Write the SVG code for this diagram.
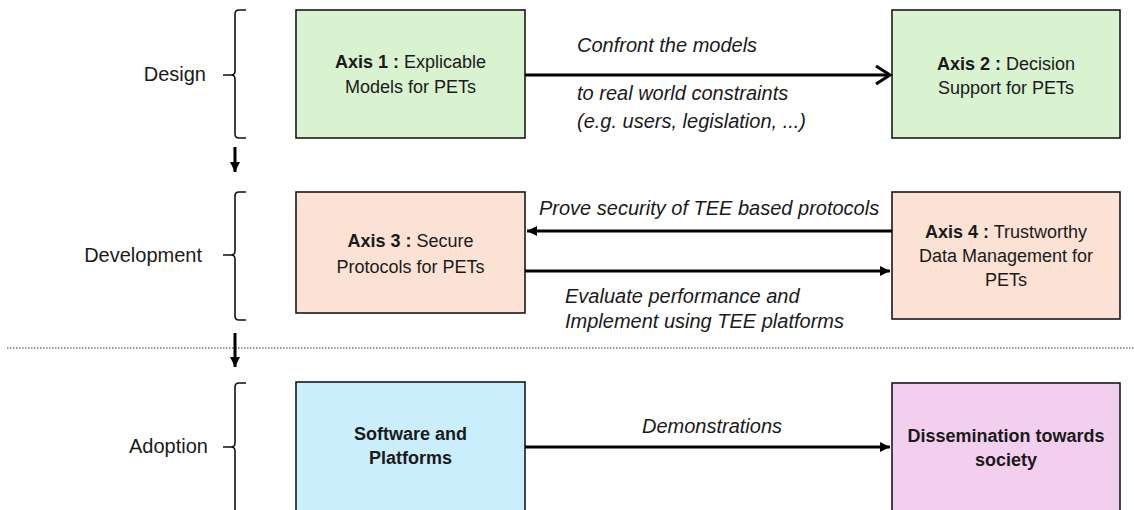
<svg xmlns="http://www.w3.org/2000/svg" width="1134" height="510" viewBox="0 0 1134 510">
<style>
.lbl{font-family:"Liberation Sans",Arial,sans-serif;font-size:20px;fill:#1a1a1a}
.it{font-family:"Liberation Sans",Arial,sans-serif;font-size:20px;font-style:italic;fill:#1a1a1a}
.bx{font-family:"Liberation Sans",Arial,sans-serif;font-size:18px;fill:#1a1a1a;text-anchor:middle}
.b{font-weight:bold}
.brace{fill:none;stroke:#111;stroke-width:1.6}
.box{stroke:#1a1a1a;stroke-width:1.6}
.conn{fill:none;stroke:#000;stroke-width:3}
</style>
<defs>
<marker id="open" markerUnits="userSpaceOnUse" markerWidth="20" markerHeight="22" refX="16" refY="11" orient="auto">
<path d="M2,2 L16,11 L2,20" fill="none" stroke="#000" stroke-width="3"/>
</marker>
<marker id="tri" markerUnits="userSpaceOnUse" markerWidth="12" markerHeight="12" refX="10" refY="6" orient="auto">
<path d="M0,1 L10,6 L0,11 Z" fill="#000"/>
</marker>
</defs>
<rect width="1134" height="510" fill="#fff"/>

<g id="phase-design">
<text class="lbl" x="206" y="81" text-anchor="end">Design</text>
<path class="brace" d="M246,10 L239,10 Q235,10 235,14 L235,71 Q235,75 231,75 L223,75 L231,75 Q235,75 235,79 L235,134 Q235,138 239,138 L246,138"/>
</g>
<g id="phase-development">
<text class="lbl" x="202" y="262" text-anchor="end">Development</text>
<path class="brace" d="M246,192 L239,192 Q235,192 235,196 L235,251 Q235,255 231,255 L223,255 L231,255 Q235,255 235,259 L235,316 Q235,320 239,320 L246,320"/>
</g>
<g id="phase-adoption">
<text class="lbl" x="208" y="453" text-anchor="end">Adoption</text>
<path class="brace" d="M246,383 L239,383 Q235,383 235,387 L235,443 Q235,447 231,447 L223,447 L231,447 Q235,447 235,451 L235,515"/>
</g>

<line x1="7" y1="348" x2="1134" y2="348" stroke="#333" stroke-width="1.2" stroke-dasharray="1.5 1.5"/>

<g id="axis1">
<rect class="box" x="296" y="10" width="229" height="128" fill="#d9f2d0"/>
<text class="bx" x="410.5" y="68"><tspan class="b">Axis 1 :</tspan> Explicable</text>
<text class="bx" x="410.5" y="93">Models for PETs</text>
</g>
<g id="axis2">
<rect class="box" x="892" y="10" width="228" height="128" fill="#d9f2d0"/>
<text class="bx" x="1006" y="70"><tspan class="b">Axis 2 :</tspan> Decision</text>
<text class="bx" x="1006" y="94">Support for PETs</text>
</g>
<g id="axis3">
<rect class="box" x="296" y="192" width="229" height="121" fill="#fbe2d5"/>
<text class="bx" x="410.5" y="247"><tspan class="b">Axis 3 :</tspan> Secure</text>
<text class="bx" x="410.5" y="273">Protocols for PETs</text>
</g>
<g id="axis4">
<rect class="box" x="892" y="192" width="228" height="127" fill="#fbe2d5"/>
<text class="bx" x="1006" y="238"><tspan class="b">Axis 4 :</tspan> Trustworthy</text>
<text class="bx" x="1006" y="262">Data Management for</text>
<text class="bx" x="1006" y="286">PETs</text>
</g>
<g id="software">
<rect class="box" x="296" y="382" width="229" height="140" fill="#caeefb"/>
<text class="bx b" x="410.5" y="440">Software and</text>
<text class="bx b" x="410.5" y="464">Platforms</text>
</g>
<g id="dissemination">
<rect class="box" x="892" y="383" width="228" height="140" fill="#f2cfee"/>
<text class="bx b" x="1006" y="442">Dissemination towards</text>
<text class="bx b" x="1006" y="466">society</text>
</g>

<g id="connectors">
<line class="conn" x1="525" y1="75" x2="890" y2="75" marker-end="url(#open)"/>
<line class="conn" x1="892" y1="231" x2="527" y2="231" stroke-width="2.5" marker-end="url(#tri)"/>
<line class="conn" x1="525" y1="271" x2="890" y2="271" stroke-width="2.5" marker-end="url(#tri)"/>
<line class="conn" x1="525" y1="447" x2="890" y2="447" stroke-width="2.5" marker-end="url(#tri)"/>
<line class="conn" x1="235" y1="147" x2="235" y2="172" marker-end="url(#tri)"/>
<line class="conn" x1="235" y1="333" x2="235" y2="367" marker-end="url(#tri)"/>
</g>

<g id="labels">
<text class="it" x="577" y="52">Confront the models</text>
<text class="it" x="577" y="100">to real world constraints</text>
<text class="it" x="577" y="128">(e.g. users, legislation, ...)</text>
<text class="it" x="539" y="215">Prove security of TEE based protocols</text>
<text class="it" x="565" y="303">Evaluate performance and</text>
<text class="it" x="565" y="328">Implement using TEE platforms</text>
<text class="it" x="642" y="433">Demonstrations</text>
</g>
</svg>
